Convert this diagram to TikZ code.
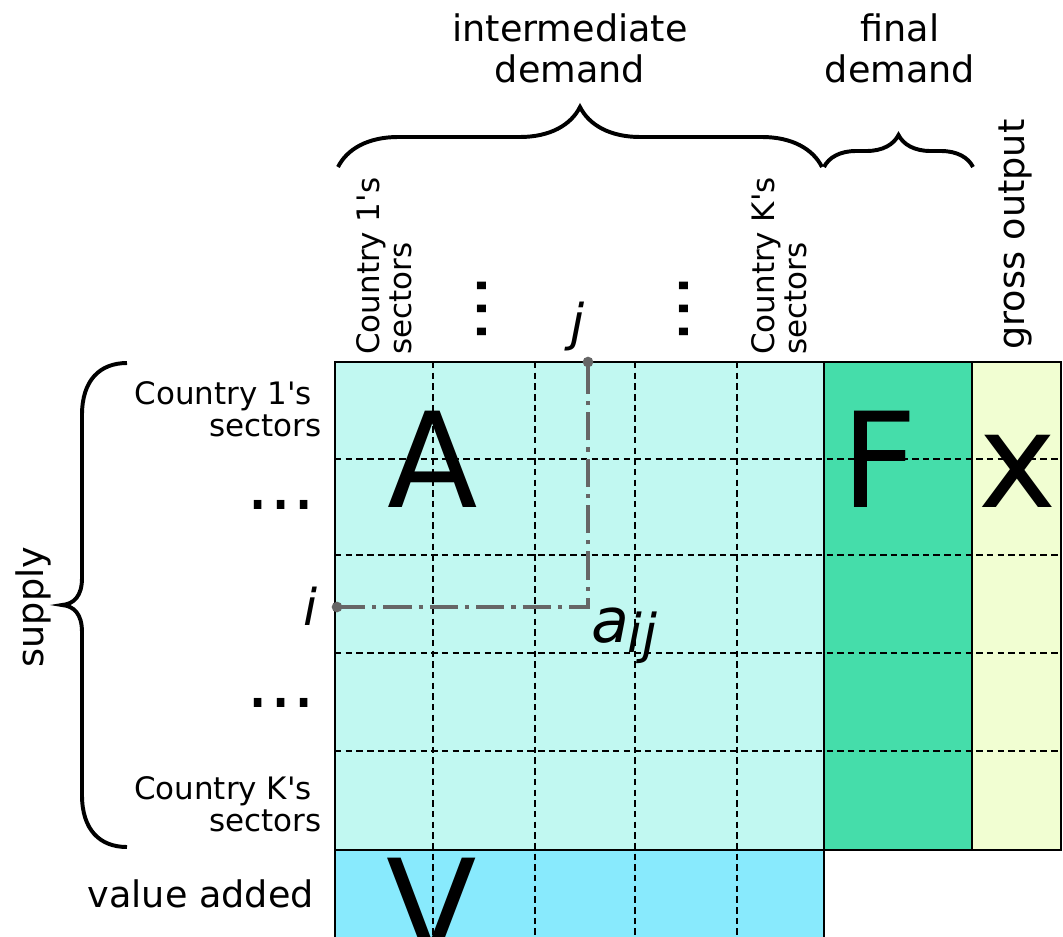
\documentclass[tikz,border=0pt]{standalone}
\usepackage{fontspec}
\setmainfont{DejaVu Sans}
\usetikzlibrary{
  decorations.pathreplacing,
  positioning
}
\definecolor{interfill}{HTML}{C1F8F1}
\definecolor{finalfill}{HTML}{45DDAA}
\definecolor{grossfill}{HTML}{F1FED2}
\definecolor{vafill}{HTML}{88EAFD}
\definecolor{pathgray}{HTML}{666666}

\begin{document}
\begin{tikzpicture}[
      x=0.025cm, y=-0.025cm,
      block/.style={
         draw=black,
         line width=1.8pt
      },
      cellgrid/.style={
         dash pattern=on 4.6pt off 3pt,
         line width=1.5pt
      },
      headlabel/.style={
         align=center,
         inner sep=0pt,
         font=\fontsize{26}{29}\selectfont
      },
      sidelabel/.style={
         inner sep=0pt,
         font=\fontsize{22}{22.7}\selectfont
      },
      matrixletter/.style={
         inner sep=0pt,
         anchor=base,
         font=\fontsize{94}{94}\selectfont
      },
      index/.style={
         inner sep=0pt,
         font=\itshape\fontsize{36}{36}\selectfont
      },
      ellipsis/.style={inner sep=0pt,font=\fontsize{52}{52}\selectfont},
      curlybrace/.style={line width=2.8pt,decorate},
      aijline/.style={draw=pathgray,line width=3pt,dash pattern=on 20pt off 5pt on 3pt off 5pt},
      endpoint/.style={fill=pathgray}
    ]
    \clip (0,0) rectangle (1063,936);
    % blocks of the table
    \path[block,fill=interfill] (335,362) rectangle (824,850);
    \path[block,fill=vafill] (335,850) rectangle (824,945);
    \path[block,fill=finalfill] (824,362) rectangle (972,850);
    \path[block,fill=grossfill] (972,362) rectangle (1061,850);
    % sector grid
    \foreach \cx in {433,535,635,737}
       \draw[cellgrid] (\cx,362) -- (\cx,940);
    \foreach \cy in {459,555,653,751}
       \draw[cellgrid] (335,\cy) -- (1061,\cy);
    % element a_ij
    \coordinate (pi) at (337,607);
    \coordinate (pj) at (588,362);
    \draw[aijline] (pi) -| (pj);
    \fill[endpoint] (pi) circle (3.8pt);
    \fill[endpoint] (pj) circle (3.8pt);
    % matrix letters
    \node[matrixletter] (A) at (433,507) {A};
    \node[matrixletter] (F) at (880,507) {F};
    \node[matrixletter] (X) at (1018,507) {x};
    \node[matrixletter] (V) at (432,954) {V};
    \node[index,anchor=base] (i) at (311,625) {i};
    \node[index,anchor=base] (j) at (578,340) {j};
    \node[index,anchor=base west,font=\itshape\fontsize{44}{44}\selectfont] (a) at (591,642) {a};
    \node[index,anchor=base west,font=\itshape\fontsize{38}{38}\selectfont] (ij) at (627,652) {ij};
    % column heads
    \node[headlabel,anchor=south] (intdem) at (570,83) {intermediate\\demand};
    \node[headlabel,anchor=south] (findem) at (900,83) {final\\demand};
    \node[sidelabel,align=left,rotate=90,anchor=south west] (col1) at (412,355) {Country 1\textquotesingle s\\sectors};
    \node[sidelabel,align=left,rotate=90,anchor=south west] (colK) at (807,355) {Country K\textquotesingle s\\sectors};
    \node[headlabel,rotate=90,anchor=base west] (gross) at (1024,350) {gross output};
    \node[ellipsis,rotate=90] (cdots1) at (482,309) {...};
    \node[ellipsis,rotate=90] (cdots2) at (684,309) {...};
    % row heads
    \node[headlabel,rotate=90,anchor=base] (supply) at (43,607) {supply};
    \node[sidelabel,align=right,anchor=south east] (row1) at (322,437) {Country 1\textquotesingle s\hspace*{.32em}\\sectors};
    \node[sidelabel,align=right,anchor=south east] (rowK) at (322,832) {Country K\textquotesingle s\hspace*{.32em}\\sectors};
    \node[headlabel,anchor=base east] (va) at (314,907) {value added};
    \node[ellipsis] (rdots1) at (281,505) {...};
    \node[ellipsis] (rdots2) at (281,703) {...};
    % braces
    \draw[curlybrace,decoration={brace,amplitude=1.5cm}] (338,167) -- (822,167);
    \draw[curlybrace,decoration={brace,amplitude=0.8cm}] (824,167) -- (973,167);
    \draw[line width=2.8pt] (127,363) .. controls (100,363) and (82,380) .. (82,415)
       -- (82,578) .. controls (82,596) and (74,604) .. (62,605)
       .. controls (74,606) and (82,614) .. (82,632)
       -- (82,795) .. controls (82,830) and (100,847) .. (127,847);
\end{tikzpicture}
\end{document}
